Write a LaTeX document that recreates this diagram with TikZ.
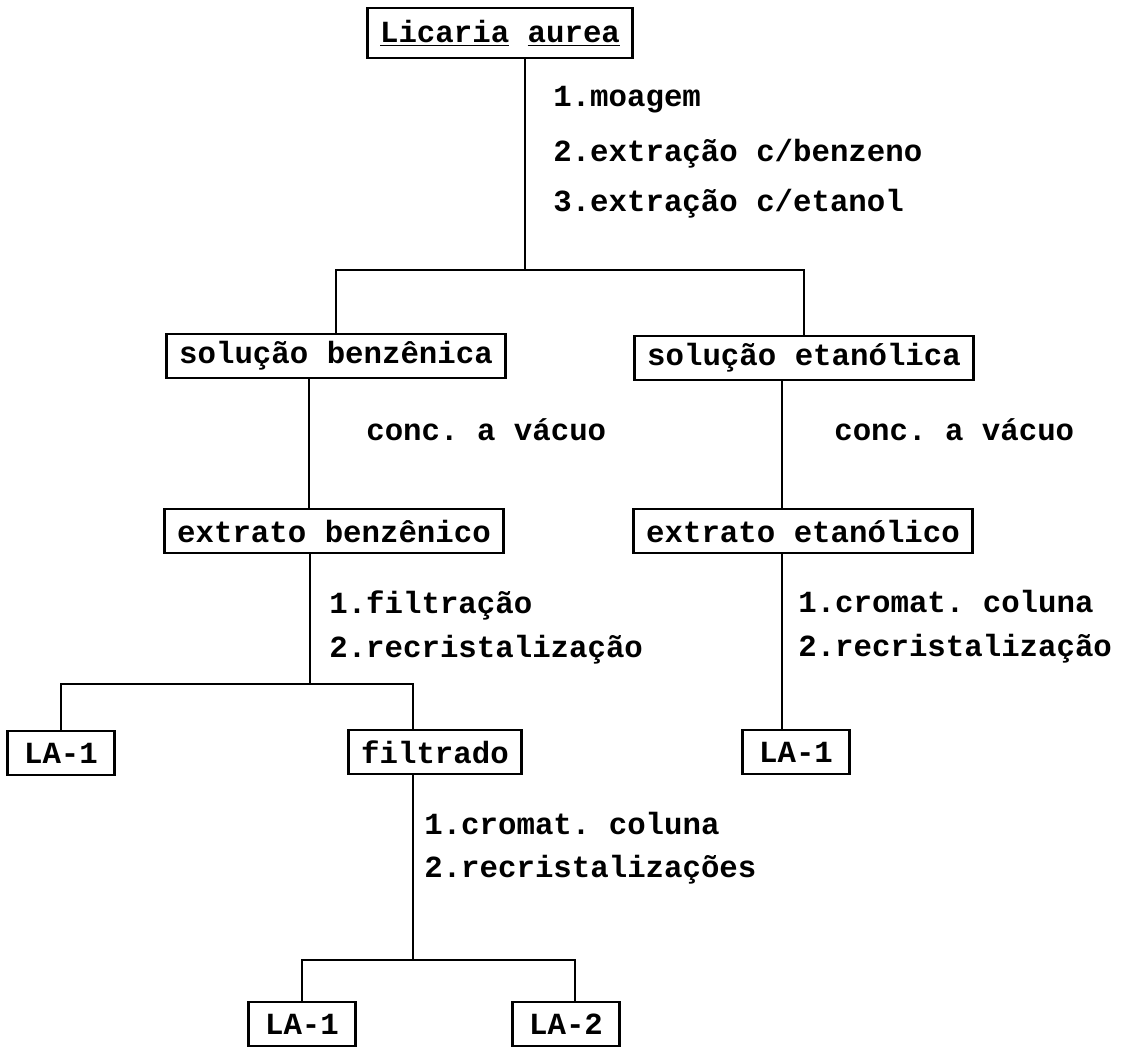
\documentclass[tikz,border=0pt]{standalone}
\usepackage{fontspec}
\setmonofont{Liberation Mono}
\usetikzlibrary{positioning, calc}
\newcommand{\typer}{\ttfamily\bfseries\fontsize{17.5}{21}\selectfont}

\begin{document}
\begin{tikzpicture}[x=0.02cm, y=-0.02cm, font=\typer, line width=1.5pt,
  box/.style={draw, inner xsep=0.25cm, inner ysep=0pt, minimum height=0.88cm},
  smallbox/.style={box, minimum width=2.15cm},
  steptext/.style={anchor=west, inner sep=0pt}]
  \useasboundingbox (0,0) rectangle (1125,1046);
  % boxes
  \node[box, minimum height=1cm] (lic) at (500,33) {\underline{Licaria} \underline{aurea}};
  \node[box] (solb) at (336,356) {solução benzênica};
  \node[box] (sole) at (804,358) {solução etanólica};
  \node[box] (extb) at (334,531) {extrato benzênico};
  \node[box] (exte) at (803,531) {extrato etanólico};
  \node[smallbox] (la1a) at (61,753) {LA-1};
  \node[box] (filt) at (435,752) {filtrado};
  \node[smallbox] (la1c) at (796,752) {LA-1};
  \node[smallbox] (la1b) at (302,1024) {LA-1};
  \node[smallbox] (la2) at (566,1024) {LA-2};
  % steps
  \node[steptext] (s1) at (552,100) {1.moagem};
  \node[steptext] (s2) at (552,154) {2.extração c/benzeno};
  \node[steptext] (s3) at (552,204) {3.extração c/etanol};
  \node[steptext] (vb) at (365,430) {conc. a vácuo};
  \node[steptext] (ve) at (833,430) {conc. a vácuo};
  \node[steptext] (f1) at (328,605) {1.filtração};
  \node[steptext] (f2) at (328,650) {2.recristalização};
  \node[steptext] (e1) at (797,601) {1.cromat. coluna};
  \node[steptext] (e2) at (797,649) {2.recristalização};
  \node[steptext] (c1) at (423,823) {1.cromat. coluna};
  \node[steptext] (c2) at (423,870) {2.recristalizações};
  % split points
  \coordinate (top) at (525,270);
  \coordinate (benz) at (309,450);
  \coordinate (etan) at (782,450);
  \coordinate (filtr) at (310,684);
  \coordinate (fdrop) at (413,684);
  \coordinate (crom) at (413,960);
  \coordinate (ldrop) at (575,960);
  % connectors
  \draw (lic.south -| top) -- (top);
  \draw (solb.north) |- (top) -| (sole.north);
  \draw (solb.south -| benz) -- (extb.north -| benz);
  \draw (sole.south -| etan) -- (exte.north -| etan);
  \draw (extb.south -| filtr) -- (filtr);
  \draw (la1a.north) |- (filtr) -| (filt.north -| fdrop);
  \draw (exte.south -| etan) -- (la1c.north -| etan);
  \draw (filt.south -| crom) -- (crom);
  \draw (la1b.north) |- (crom) -| (la2.north -| ldrop);
\end{tikzpicture}
\end{document}
